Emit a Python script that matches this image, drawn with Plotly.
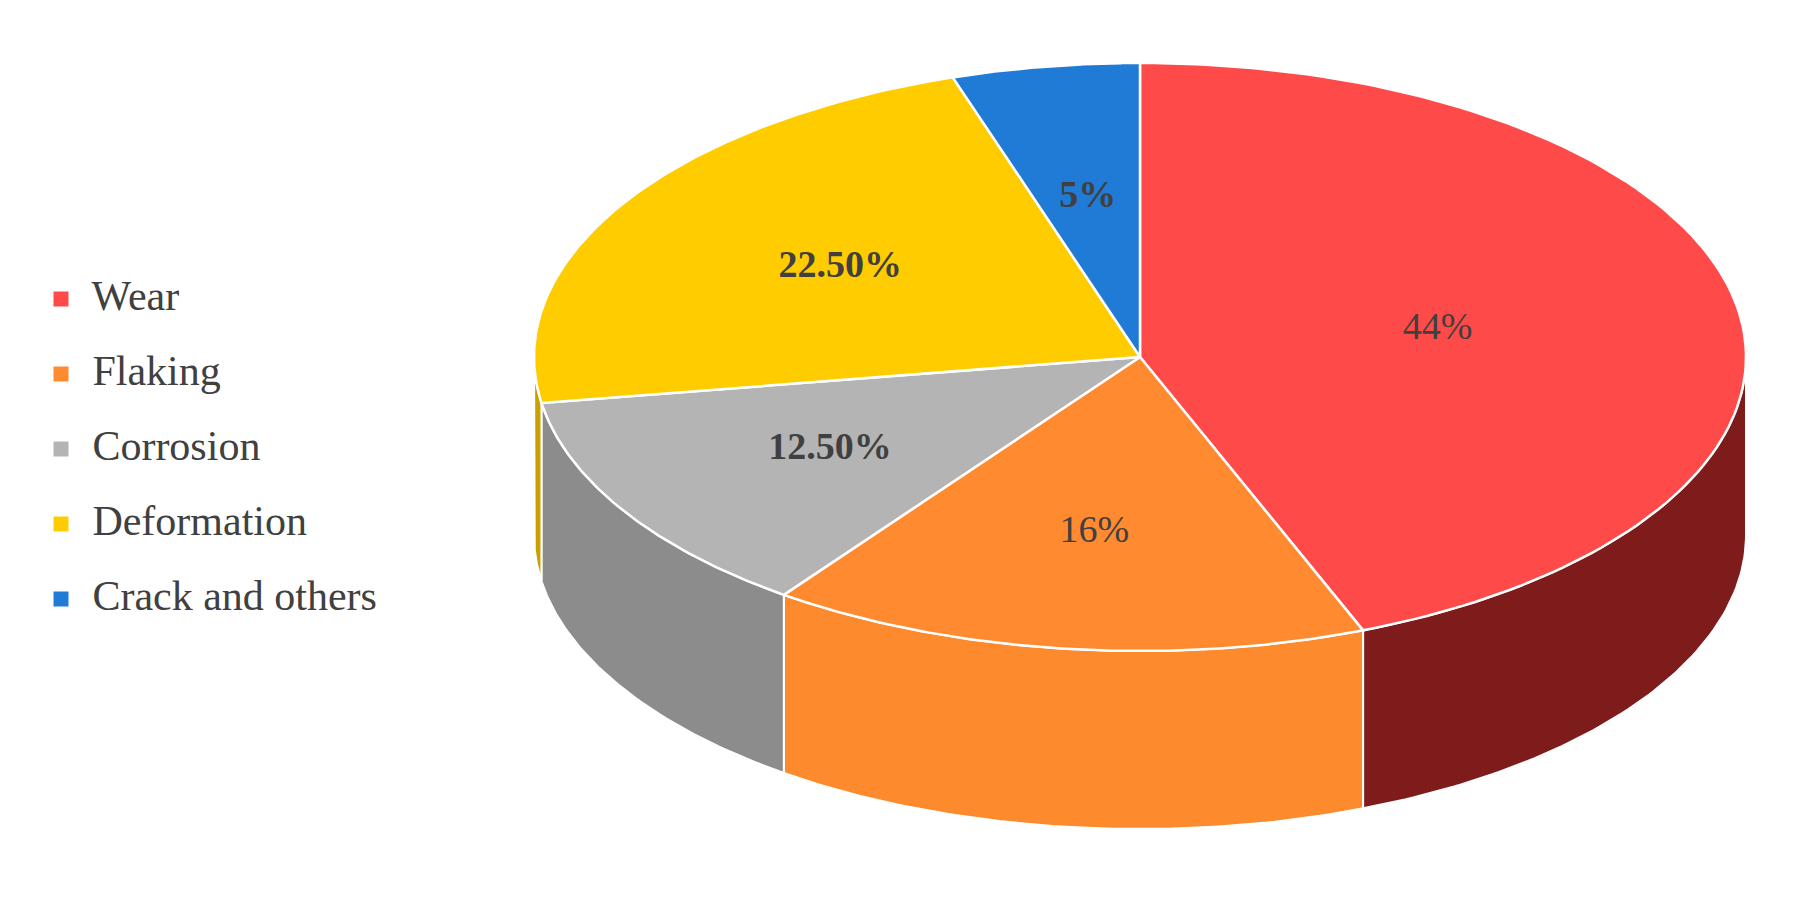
import numpy as np
import plotly.graph_objects as go

categories = ["Wear", "Flaking", "Corrosion", "Deformation", "Crack and others"]
values = [44, 16, 12.5, 22.5, 5]
labels = ["44%", "16%", "12.50%", "22.50%", "5%"]
top_colors = ["#ff4a4a", "#ff8a30", "#b4b4b4", "#ffcc00", "#1f7bd6"]
side_colors = ["#7e1c1c", "#fd8a2c", "#8c8c8c", "#c9a000", "#165ea6"]

W, H = 1799, 923
cx, cy, rx, ry, depth = 1132, 349, 606, 294, 178

def pt(theta, r=1.0, dy=0.0):
    t = np.radians(theta)
    return cx + r * rx * np.sin(t), cy - r * ry * np.cos(t) + dy

fig = go.Figure()
total = sum(values)
starts = np.cumsum([0] + values[:-1]) / total * 360
ends = np.cumsum(values) / total * 360

for i in range(len(values)):
    a, b = max(starts[i], 90), min(ends[i], 270)
    if b <= a:
        continue
    th = np.linspace(a, b, 80)
    xs, ys = pt(th)
    xb, yb = pt(th[::-1], dy=depth)
    fig.add_trace(go.Scatter(x=np.r_[xs, xb, xs[0]], y=np.r_[ys, yb, ys[0]], fill="toself",
                             fillcolor=side_colors[i], mode="lines",
                             line=dict(color="white", width=2), hoverinfo="skip", showlegend=False))
for i in range(len(values)):
    th = np.linspace(starts[i], ends[i], 120)
    xs, ys = pt(th)
    fig.add_trace(go.Scatter(x=np.r_[cx, xs, cx], y=np.r_[cy, ys, cy], fill="toself",
                             fillcolor=top_colors[i], mode="lines",
                             line=dict(color="white", width=2.5), hoverinfo="skip", showlegend=False))
bold = [False, False, True, True, True]
radii = [0.5, 0.6, 0.6, 0.58, 0.55]
for i in range(len(values)):
    mid = (starts[i] + ends[i]) / 2
    x, y = pt(mid, radii[i])
    txt = f"<b>{labels[i]}</b>" if bold[i] else labels[i]
    fig.add_trace(go.Scatter(x=[x], y=[y], mode="text", text=[txt], showlegend=False,
                             textfont=dict(family="Liberation Serif", size=38, color="#404040")))
ly = [291, 366, 441, 516, 591]
fig.add_trace(go.Scatter(x=[53] * 5, y=ly, mode="markers+text", text=["  " + c for c in categories],
                         textposition="middle right",
                         marker=dict(symbol="square", size=15, color=top_colors),
                         textfont=dict(family="Liberation Serif", size=42, color="#404040"),
                         showlegend=False, hoverinfo="skip"))

fig.update_layout(width=W, height=H, margin=dict(l=0, r=0, t=0, b=0),
                  plot_bgcolor="white", paper_bgcolor="white",
                  xaxis=dict(range=[0, W], visible=False),
                  yaxis=dict(range=[H, 0], visible=False))
fig.write_html("out.html")
